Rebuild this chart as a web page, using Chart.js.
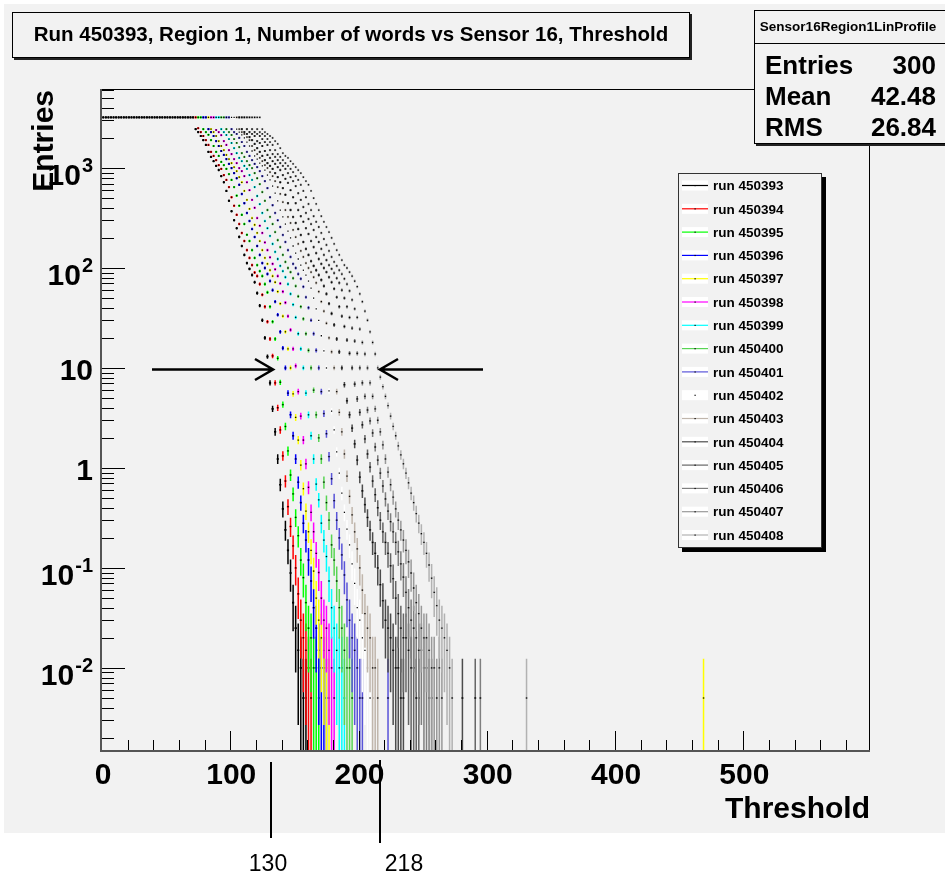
<!DOCTYPE html>
<html><head><meta charset="utf-8">
<script src="https://cdn.jsdelivr.net/npm/chart.js@4.4.1/dist/chart.umd.min.js"></script>
<style>html,body{margin:0;padding:0;background:#fff;}canvas{display:block;}</style>
</head><body>
<canvas id="c" width="945" height="875"></canvas>
<script>
// ---------------- data ----------------
const runLabels = ['run 450393','run 450394','run 450395','run 450396','run 450397','run 450398','run 450399','run 450400',
  'run 450401','run 450402','run 450403','run 450404','run 450405','run 450406','run 450407','run 450408'];
const BIN_WIDTH = 2;           // threshold step of the profile bins
const N_EVENTS = 200;          // events per threshold point (for error bars)
const WORDS_PER_HIT = 2;
// first bin centre of every run
const seriesStart = [1,73,75,79,83,85,89,93,97,101,105,107,109,113,117,121];
const v450393 = [3210,3210,3210,3210,3210,3210,3210,3210,3210,3210,3210,3210,3210,3210,3210,3210,3210,3210,3210,3210,
  3210,3210,3210,3210,3210,3210,3210,3210,3210,3210,3210,3210,3210,3210,3210,3210,
  2450,2290,2090,1900,1700,1450,1290,1170,1050,955,830,720,590,470,370,300,250,205,166,135,112,98,85,72,56,42,30,20,13,
  7.1,3.9,2.3,1.23,0.68,0.39,0.24,0.15,0.089,0.045,0.025,0.015,0.01,0.005,0.005];
const v450394 = [3210,2500,2290,2090,1900,1700,1450,1320,1200,1070,980,850,760,645,510,420,340,275,224,186,151,126,107,90,83,69,54,41,29,19.5,13.2,
  7.1,4.0,2.4,1.32,0.74,0.41,0.26,0.166,0.10,0.055,0.03,0.02,0.015,0.01,0.005];
const v450395 = [3210,3210,2450,2290,2150,1900,1660,1450,1320,1150,1070,980,870,760,645,530,420,340,275,215,186,151,126,107,93,83,69,57,41,29,19.5,12.5,
  7.2,4.3,2.6,1.48,0.85,0.55,0.32,0.21,0.12,0.08,0.045,0.025,0.02,0.01,0.01,0.005];
const v450396 = [3210,3210,2450,2290,2090,1860,1660,1480,1350,1230,1100,1000,890,790,680,550,445,355,295,245,204,166,135,112,100,87,74,60,46,34,23,15.8,10,
  5.6,3.4,2.1,1.23,0.72,0.45,0.28,0.19,0.12,0.074,0.04,0.025,0.015,0.01,0.01,0.005];
const v450397 = [3210,2450,2290,2090,1860,1660,1510,1350,1230,1120,1020,930,810,720,590,480,390,316,270,224,186,151,126,110,95,83,72,58,44,33,23,15.5,10,
  5.5,3.2,1.9,1.07,0.62,0.37,0.23,0.15,0.093,0.05,0.03,0.02,0.015,0.01,0.005];
const v450398 = [3210,3210,2400,2290,2130,1860,1700,1510,1380,1230,1120,1000,930,830,720,600,480,400,316,265,224,180,151,128,110,97,83,70,58,45,33,24,15.5,10.5,
  5.8,3.3,1.9,1.1,0.64,0.36,0.23,0.14,0.09,0.05,0.03,0.025,0.015,0.01,0.005];
const v450399 = [3210,3210,2450,2290,2140,1950,1780,1580,1410,1260,1170,1050,980,850,760,645,525,435,355,295,250,209,174,145,123,105,93,81,69,55,43,32,22,15.5,10,
  5.6,3.4,2.1,1.23,0.69,0.48,0.28,0.19,0.13,0.074,0.04,0.025,0.015,0.01,0.01,0.005];
const v450400 = [3210,3210,2450,2290,2140,1950,1780,1620,1410,1290,1170,1070,1000,890,790,690,575,470,380,324,275,229,190,162,135,115,100,91,79,66,52,41,31,22,15,10,
  6.0,3.4,2.0,1.23,0.72,0.45,0.3,0.17,0.12,0.074,0.04,0.025,0.015,0.01,0.01,0.005];
const v450401 = [3210,3210,2450,2290,2190,2000,1820,1660,1450,1320,1200,1100,1020,930,830,740,630,510,425,355,300,257,214,182,151,129,110,100,87,78,65,51,40,30,22,15,10,
  5.8,3.5,2.2,1.3,0.78,0.47,0.30,0.20,0.135,0.085,0.048,0.03,0.02,0.015,0.01,0.005,0.005];
const v450402 = [3210,3210,2450,2290,2140,2000,1820,1660,1480,1320,1230,1120,1050,955,850,760,660,560,470,380,324,275,234,200,166,141,123,107,95,85,74,63,50,39,30,21,14.8,10,
  5.9,3.7,2.4,1.45,0.89,0.56,0.36,0.245,0.17,0.11,0.07,0.04,0.03,0.02,0.015,0.01,0.005,0.005];
const v450403 = [3210,2450,2290,2190,2040,1900,1660,1510,1380,1260,1170,1070,1000,910,830,740,645,550,457,380,324,282,240,204,174,148,129,112,100,91,81,71,58,46,37,28,20,14.5,10,
  5.8,3.6,2.3,1.38,0.83,0.52,0.34,0.23,0.155,0.10,0.06,0.035,0.025,0.02,0.01,0.01,0.005];
const v450404 = [3210,2450,2290,2190,2040,1900,1740,1580,1450,1320,1200,1120,1050,980,890,810,720,630,540,445,380,324,282,245,214,182,155,135,117,105,95,85,76,66,55,44,35,27,19.5,14.5,10,
  6.8,4.7,3.4,2.5,1.74,1.2,0.81,0.59,0.43,0.32,0.24,0.18,0.14,0.10,0.068,0.047,0.03,0.025,0.02,0.015,0.01,0.01,0.005,0.005];
const v450405 = [3210,3210,2450,2290,2190,2090,1860,1780,1660,1480,1350,1260,1170,1100,1020,955,850,780,710,600,510,445,380,330,290,250,219,186,162,141,123,110,100,91,81,72,62,51,41,33,26,19,14,10,
  6.9,4.9,3.6,2.7,1.95,1.38,1.02,0.74,0.54,0.40,0.30,0.23,0.18,0.14,0.105,0.078,0.05,0.035,0.025,0.02,0.02,0.015,0.01,0.01,0.005,0.005];
const v450406 = [3210,3210,2450,2290,2190,2090,1950,1820,1700,1510,1380,1290,1200,1120,1050,980,890,810,740,660,560,480,407,355,309,275,240,204,182,155,135,120,107,98,89,79,71,60,50,41,32,25,18.6,14,10,
  7.1,5.2,3.8,2.95,2.24,1.62,1.2,0.89,0.66,0.49,0.37,0.29,0.23,0.18,0.145,0.11,0.081,0.057,0.04,0.03,0.025,0.02,0.015,0.015,0.01,0.01,0.005,0.005];
const v450407 = [3210,3210,2450,2290,2190,2090,1950,1820,1700,1510,1380,1290,1200,1120,1050,980,910,830,760,680,590,510,437,380,330,290,257,224,195,170,148,129,115,105,95,87,78,69,59,48,39,32,24.5,18,13.8,10,
  7.1,5.2,3.9,3.0,2.3,1.7,1.23,0.91,0.68,0.51,0.39,0.30,0.24,0.19,0.15,0.115,0.089,0.063,0.045,0.035,0.025,0.02,0.02,0.015,0.01,0.01,0.005,0.01,0.005];
const v450408 = [3210,3210,2450,2290,2190,2090,2000,1860,1740,1580,1410,1320,1260,1170,1100,1020,955,890,810,740,680,590,500,437,380,330,290,257,229,200,174,151,135,120,107,100,91,83,74,65,55,46,37,30,23,18,13.8,10,
  8.1,6.5,5.2,4.2,3.3,2.6,2.1,1.66,1.35,1.1,0.89,0.71,0.56,0.45,0.35,0.28,0.22,0.18,0.14,0.107,0.079,0.057,0.042,0.03,0.025,0.02,0.015,0.01,0.005];
const seriesValues = [v450393,v450394,v450395,v450396,v450397,v450398,v450399,v450400,v450401,v450402,v450403,v450404,v450405,v450406,v450407,v450408];
// isolated single-hit bins
const extraX = [[],[],[],[],[469],[],[],[],[223],[],[],[281],[291],[295],[],[331]];
const extraY = [[],[],[],[],[0.005],[],[],[],[0.005],[],[],[0.005],[0.005],[0.005],[],[0.005]];
// axes
const xMajorTicks = [0,100,200,300,400,500];
const xTickLabels = ['0','100','200','300','400','500'];
const yMajorTicks = [0.01,0.1,1,10,100,1000];
const yTickBase = ['10','10','1','10','10','10'];
const yTickExp  = ['-2','-1','','','2','3'];
const statsNames = ['Entries','Mean','RMS'];
const statsValues = ['300','42.48','26.84'];

// ---------------- styles ----------------
const seriesColors = ['#000000','#ff0000','#00ff00','#0000ff','#ffff00','#ff00ff','#00ffff','#59d454',
  '#5954d8','#ffffff','#c0b6ac','#4c4c4c','#666666','#7f7f7f','#999999','#b2b2b2'];
const FONT = '"Liberation Sans", Arial, Helvetica, sans-serif';
const PAD = '#f2f2f2';

const datasets = seriesValues.map((vals, s) => {
  const pts = vals.map((v, i) => ({x: seriesStart[s] + BIN_WIDTH * i, y: v}));
  extraX[s].forEach((x, j) => pts.push({x: x, y: extraY[s][j]}));
  return {
    label: runLabels[s], data: pts, barColor: seriesColors[s],
    showLine: false, pointStyle: 'rect', pointRadius: 0.9, pointBackgroundColor: '#000',
    pointBorderWidth: 0, order: -s
  };
});

const rootPlugin = {
  id: 'rootLook',
  beforeDraw(chart) {
    const c = chart.ctx;
    c.save();
    c.fillStyle = '#ffffff'; c.fillRect(0, 0, chart.width, chart.height);
    c.fillStyle = PAD; c.fillRect(4, 4, chart.width - 4, 829);
    c.restore();
  },
  beforeDatasetDraw(chart, args) {
    const c = chart.ctx, a = chart.chartArea, xs = chart.scales.x, ys = chart.scales.y;
    const ds = chart.data.datasets[args.index];
    c.save();
    c.beginPath(); c.rect(a.left, a.top, a.right - a.left, a.bottom - a.top); c.clip();
    c.strokeStyle = ds.barColor;
    // vertical error bars
    c.lineWidth = 1.5;
    c.beginPath();
    for (const p of ds.data) {
      const px = xs.getPixelForValue(p.x);
      const e = Math.sqrt(p.y * WORDS_PER_HIT / N_EVENTS);
      const top = ys.getPixelForValue(p.y + e) - 1;
      const lo = p.y - e;
      const bot = lo > ys.min ? ys.getPixelForValue(lo) + 1 : a.bottom;
      c.moveTo(px, top); c.lineTo(px, bot);
    }
    c.stroke();
    // horizontal bars (bin width)
    c.lineWidth = 1.6;
    c.beginPath();
    for (const p of ds.data) {
      const py = ys.getPixelForValue(p.y);
      c.moveTo(xs.getPixelForValue(p.x - 0.85), py); c.lineTo(xs.getPixelForValue(p.x + 0.85), py);
    }
    c.stroke();
    c.restore();
  },
  afterDatasetsDraw(chart) {
    const c = chart.ctx, a = chart.chartArea, xs = chart.scales.x, ys = chart.scales.y;
    c.save();
    // frame
    c.strokeStyle = '#000'; c.lineWidth = 1;
    c.strokeRect(a.left - 0.5, a.top - 0.5, a.right - a.left + 1, a.bottom - a.top + 1);
    c.strokeStyle = '#555'; c.lineWidth = 2;
    c.beginPath(); c.moveTo(a.left - 1, a.top - 1); c.lineTo(a.left - 1, a.bottom + 1); c.lineTo(a.right + 1, a.bottom + 1); c.stroke();
    // y ticks
    c.strokeStyle = '#000'; c.lineWidth = 1;
    c.beginPath();
    for (let k = -3; k <= 3; k++) for (let m = 1; m <= 9; m++) {
      const v = m * Math.pow(10, k);
      if (v < ys.min || v > ys.max) continue;
      const py = Math.round(ys.getPixelForValue(v)) + 0.5;
      c.moveTo(a.left, py); c.lineTo(a.left + (m === 1 ? 23 : 12), py);
    }
    // x ticks
    for (let v = 20; v < xs.max; v += 20) {
      const px = Math.round(xs.getPixelForValue(v)) + 0.5;
      c.moveTo(px, a.bottom); c.lineTo(px, a.bottom - (v % 100 === 0 ? 19 : 10));
    }
    c.stroke();
    // labels
    c.fillStyle = '#000';
    c.font = 'bold 30px ' + FONT; c.textAlign = 'center'; c.textBaseline = 'alphabetic';
    xMajorTicks.forEach((v, i) => c.fillText(xTickLabels[i], xs.getPixelForValue(v) + 1, 784));
    yMajorTicks.forEach((v, i) => {
      const py = ys.getPixelForValue(v);
      c.textAlign = 'right';
      if (yTickExp[i]) {
        c.font = 'bold 20px ' + FONT;
        const w = c.measureText(yTickExp[i]).width;
        c.fillText(yTickExp[i], 93, py + 4);
        c.font = 'bold 30px ' + FONT;
        c.fillText(yTickBase[i], 93 - w - 1, py + 17);
      } else {
        c.font = 'bold 30px ' + FONT;
        c.fillText(yTickBase[i], 93, py + 12);
      }
    });
    // axis titles
    c.font = 'bold 30px ' + FONT;
    c.textAlign = 'right';
    c.fillText('Threshold', 870, 818);
    c.save(); c.translate(53, 90); c.rotate(-Math.PI / 2); c.fillText('Entries', 0, 0); c.restore();
    c.restore();
  },
  afterDraw(chart) {
    const c = chart.ctx;
    c.save();
    // title box
    c.fillStyle = '#222'; c.fillRect(14, 14, 678, 46);
    c.fillStyle = PAD; c.fillRect(12, 12, 678, 46);
    c.strokeStyle = '#000'; c.lineWidth = 1; c.strokeRect(12.5, 12.5, 677, 45);
    c.fillStyle = '#000'; c.font = 'bold 20.5px ' + FONT; c.textAlign = 'center'; c.textBaseline = 'middle';
    c.fillText('Run 450393, Region 1, Number of words vs Sensor 16, Threshold', 351, 35);
    // stats box
    c.fillStyle = '#222'; c.fillRect(756, 12, 200, 134);
    c.fillStyle = PAD; c.fillRect(754, 10, 200, 134);
    c.strokeStyle = '#000'; c.strokeRect(754.5, 10.5, 200, 133);
    c.beginPath(); c.moveTo(754, 43.5); c.lineTo(945, 43.5); c.stroke();
    c.fillStyle = '#000'; c.font = 'bold 13.5px ' + FONT; c.textAlign = 'center';
    c.fillText('Sensor16Region1LinProfile', 848, 27);
    c.font = 'bold 26px ' + FONT; c.textBaseline = 'alphabetic';
    const base = [74, 105, 136];
    statsNames.forEach((n, i) => {
      c.textAlign = 'left'; c.fillText(n, 765, base[i]);
      c.textAlign = 'right'; c.fillText(statsValues[i], 936, base[i]);
    });
    // legend
    const L = 678, T = 173, W = 144, H = 375;
    c.fillStyle = '#000'; c.fillRect(L + 4, T + 4, W, H);
    c.fillStyle = PAD; c.fillRect(L, T, W, H);
    c.strokeStyle = '#333'; c.strokeRect(L + 0.5, T + 0.5, W - 1, H - 1);
    c.font = 'bold 13.5px ' + FONT; c.textAlign = 'left'; c.textBaseline = 'middle';
    chart.data.datasets.forEach((ds, i) => {
      const y = 185.5 + i * 23.3;
      c.fillStyle = '#fff'; c.fillRect(682, y - 5, 26, 10);
      c.strokeStyle = ds.barColor; c.lineWidth = 1.2;
      c.beginPath(); c.moveTo(682, y); c.lineTo(708, y); c.stroke();
      c.fillStyle = '#000'; c.fillRect(694.5, y - 0.5, 1.2, 1.2);
      c.fillText(ds.label, 713, y + 1);
    });
    // annotation arrows
    c.strokeStyle = '#000'; c.lineWidth = 2.6; c.lineCap = 'butt';
    c.beginPath();
    c.moveTo(152, 369.5); c.lineTo(272, 369.5);
    c.moveTo(255, 359); c.lineTo(273, 369.5); c.lineTo(255, 380);
    c.moveTo(483, 369.5); c.lineTo(381, 369.5);
    c.moveTo(398, 359); c.lineTo(380, 369.5); c.lineTo(398, 380);
    c.stroke();
    c.lineWidth = 2;
    c.beginPath();
    c.moveTo(271, 762); c.lineTo(271, 838);
    c.moveTo(380, 760); c.lineTo(380, 843);
    c.stroke();
    c.fillStyle = '#000'; c.font = '23px "Liberation Sans Narrow", "Liberation Sans", Arial, sans-serif';
    c.textAlign = 'center'; c.textBaseline = 'middle';
    c.fillText('130', 268, 865);
    c.fillText('218', 404, 865);
    c.restore();
  }
};

new Chart(document.getElementById('c'), {
  type: 'scatter',
  data: {datasets: datasets},
  options: {
    responsive: false, animation: false, events: [],
    layout: {padding: {left: 102, top: 90, right: 76, bottom: 125}},
    scales: {
      x: {type: 'linear', min: 0, max: 598, display: false},
      y: {type: 'logarithmic', min: 0.00151, max: 6030, display: false}
    },
    plugins: {legend: {display: false}, tooltip: {enabled: false}, title: {display: false}}
  },
  plugins: [rootPlugin]
});
</script>
</body></html>
